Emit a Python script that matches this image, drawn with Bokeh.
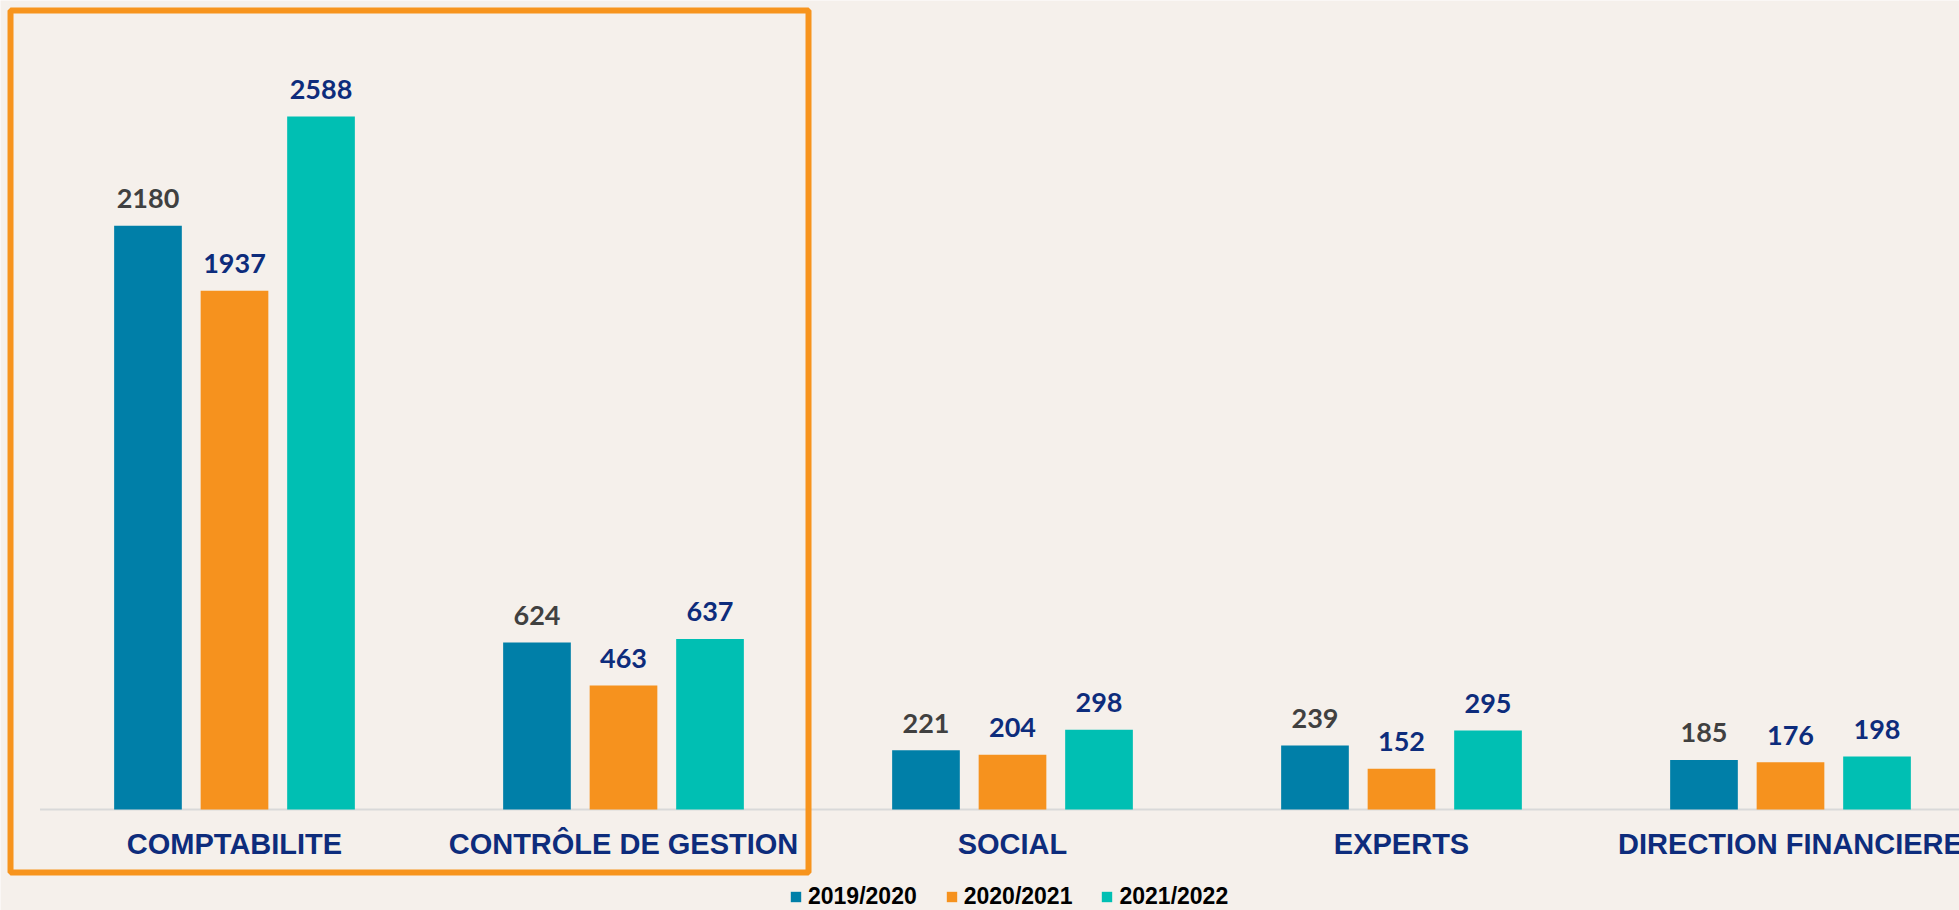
import numpy as np
from bokeh.plotting import figure
from bokeh.models import ColumnDataSource, Range1d, Legend, LegendItem, BoxAnnotation
from bokeh.core.properties import value
from bokeh.embed import file_html
from bokeh.resources import INLINE

categories = ["COMPTABILITE", "CONTRÔLE DE GESTION", "SOCIAL", "EXPERTS", "DIRECTION FINANCIERE"]
series_names = ["2019/2020", "2020/2021", "2021/2022"]
v2019 = [2180, 624, 221, 239, 185]
v2020 = [1937, 463, 204, 152, 176]
v2021 = [2588, 637, 298, 295, 198]

colors = ["#007FA8", "#F6921E", "#00BFB3"]
label_colors = ["#404040", "#0D2C7C", "#0D2C7C"]
navy = "#0D2C7C"
bg = "#F5F0EB"

W, H = 1959, 910
px_per_cat = 389.0
px_per_unit = 0.2678
base_y = 809
x0 = -39.5 / px_per_cat
x1 = x0 + W / px_per_cat
y1 = base_y / px_per_unit
y0 = -(H - base_y) / px_per_unit

p = figure(width=W, height=H, output_backend="svg", toolbar_location=None,
           x_range=Range1d(x0, x1), y_range=Range1d(y0, y1),
           min_border=0, min_border_left=0, min_border_right=0,
           min_border_top=0, min_border_bottom=0)
p.axis.visible = False
p.grid.visible = False
p.outline_line_color = None
p.background_fill_color = bg
p.border_fill_color = bg

centers = np.arange(len(categories)) + 0.5
offsets = [-0.2224, 0.0, 0.2224]
bar_w = 0.174

# axis baseline
p.line(x=[0, len(categories)], y=[0, 0], line_color="#D9D9D9", line_width=2)

renderers = []
for vals, off, col, lcol in zip([v2019, v2020, v2021], offsets, colors, label_colors):
    src = ColumnDataSource(dict(x=centers + off, top=vals, lab=[str(v) for v in vals]))
    r = p.vbar(x="x", top="top", bottom=0, width=bar_w, source=src,
               fill_color=col, line_color=None)
    renderers.append(r)
    p.text(x="x", y="top", text="lab", source=src, text_align="center",
           text_baseline="alphabetic", y_offset=-27,
           text_font=value("Lato"), text_font_style="bold",
           text_font_size="27px", text_color=lcol)

# category labels
csrc = ColumnDataSource(dict(x=centers, y=[0] * len(categories), t=categories))
p.text(x="x", y="y", text="t", source=csrc, text_align="center",
       text_baseline="alphabetic", y_offset=34,
       text_font=value("Liberation Sans"), text_font_style="bold",
       text_font_size="29px", text_color=navy)

# highlight box around first two categories
box = BoxAnnotation(left=-0.0758, right=1.9756, bottom=-63 / px_per_unit, top=799 / px_per_unit,
                    fill_alpha=0, line_color="#F7941D", line_alpha=1.0, line_width=6)
p.add_layout(box)

legend = Legend(items=[LegendItem(label=n, renderers=[r]) for n, r in zip(series_names, renderers)],
                orientation="horizontal", location=(789, 0),
                glyph_width=13, glyph_height=13, label_standoff=6, spacing=28,
                padding=0, margin=0, border_line_color=None, background_fill_alpha=0,
                label_text_font="Liberation Sans", label_text_font_style="bold",
                label_text_font_size="23px", label_text_color="#000000")
p.add_layout(legend)

open("out.html", "w").write(file_html(p, INLINE))
